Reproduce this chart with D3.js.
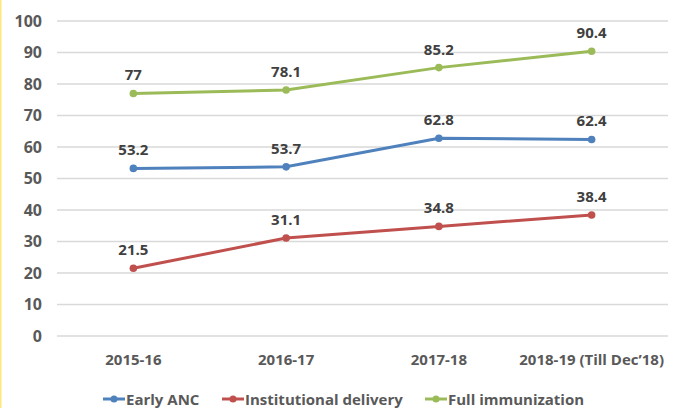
<!DOCTYPE html>
<html><head><meta charset="utf-8">
<script src="https://cdn.jsdelivr.net/npm/d3@7"></script>
<style>body{margin:0;background:#fff}svg{display:block}</style>
</head><body>
<svg id="c" width="680" height="408"></svg>
<script>
const categories = ["2015-16","2016-17","2017-18","2018-19 (Till Dec\u201918)"];
const earlyANC = [53.2,53.7,62.8,62.4];
const institutional = [21.5,31.1,34.8,38.4];
const fullImmunization = [77,78.1,85.2,90.4];
const yTicks = [0,10,20,30,40,50,60,70,80,90,100];
const seriesNames = ["Early ANC","Institutional delivery","Full immunization"];
const colors = ["#4F81BD","#C0504D","#9BBB59"];

const svg = d3.select("#c");
const font = "'Open Sans', 'Liberation Sans', sans-serif";
svg.append("rect").attr("x",0).attr("y",0).attr("width",1.5).attr("height",408).attr("fill","#FFE680");

const x = d3.scaleBand().domain(categories).range([57,668]);
const y = d3.scaleLinear().domain([0,100]).range([336,21]);

svg.append("g").selectAll("line").data(yTicks).join("line")
  .attr("x1",57).attr("x2",668).attr("y1",d=>y(d)).attr("y2",d=>y(d))
  .attr("stroke","#D9D9D9").attr("stroke-width",1.3);

const yAxis = d3.axisLeft(y).tickValues(yTicks).tickSize(0).tickPadding(0);
const ga = svg.append("g").attr("transform","translate(42,0)").call(yAxis);
ga.select(".domain").remove();
ga.selectAll("text").attr("font-family",font).attr("font-weight","bold").attr("font-size",16).attr("fill","#595959");

const xAxis = d3.axisBottom(x).tickSize(0).tickPadding(0);
const gx = svg.append("g").attr("transform","translate(0,354)").call(xAxis);
gx.select(".domain").remove();
gx.selectAll("text").attr("font-family",font).attr("font-weight","bold").attr("font-size",15).attr("fill","#595959");

const data = [earlyANC,institutional,fullImmunization];
const cx = c => x(c)+x.bandwidth()/2;
const line = d3.line().x((d,i)=>cx(categories[i])).y(d=>y(d));
data.forEach((s,k)=>{
  svg.append("path").attr("d",line(s)).attr("fill","none").attr("stroke",colors[k]).attr("stroke-width",3);
  svg.append("g").selectAll("circle").data(s).join("circle")
    .attr("cx",(d,i)=>cx(categories[i])).attr("cy",d=>y(d)).attr("r",3.8).attr("fill",colors[k]);
  svg.append("g").selectAll("text").data(s).join("text")
    .attr("x",(d,i)=>cx(categories[i])).attr("y",d=>y(d)-13)
    .attr("text-anchor","middle").attr("font-family",font).attr("font-weight","bold")
    .attr("font-size",15).attr("fill","#404040").text(d=>d);
});

const legendX = [103,222,425];
const lg = svg.append("g");
seriesNames.forEach((n,k)=>{
  const g = lg.append("g").attr("transform",`translate(${legendX[k]},399)`);
  g.append("line").attr("x1",0).attr("x2",22).attr("y1",0).attr("y2",0).attr("stroke",colors[k]).attr("stroke-width",3);
  g.append("circle").attr("cx",11).attr("cy",0).attr("r",3.5).attr("fill",colors[k]);
  g.append("text").attr("x",23).attr("y",5.5).attr("font-family",font).attr("font-weight","bold")
    .attr("font-size",15).attr("fill","#595959").text(n);
});
</script>
</body></html>
